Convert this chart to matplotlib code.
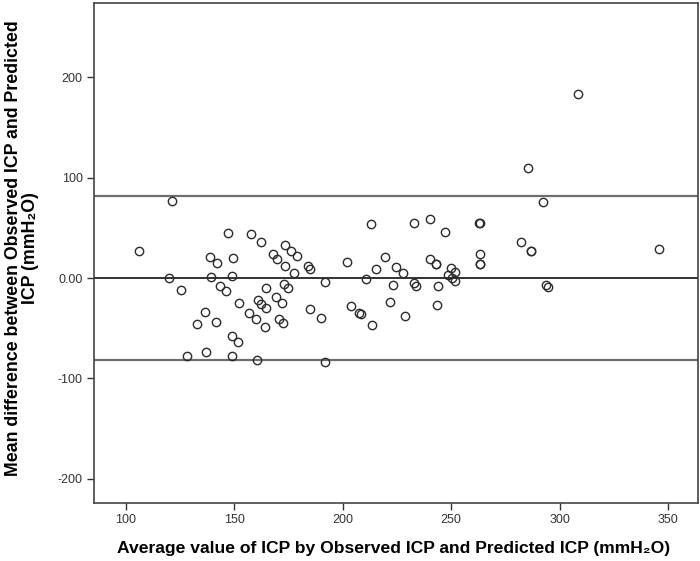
import numpy as np
import matplotlib
matplotlib.use("Agg")
from matplotlib import pyplot as plt

plt.rcParams['font.family'] = ['Liberation Sans', 'DejaVu Sans']

# average of observed and predicted ICP (mmH2O)
avg_icp = [106.1, 121.1, 119.8, 125.4, 132.8, 128.4, 147.0, 157.8, 162.1, 173.5,
           138.9, 142.0, 149.5, 167.8, 169.8, 173.5, 139.2, 148.8, 143.5, 146.1,
           173.0, 174.6, 164.7, 152.3, 160.9, 162.1, 164.6, 169.2, 171.8, 136.6,
           141.5, 157.0, 160.0, 164.3, 170.4, 172.6, 148.9, 151.5, 136.9, 148.8,
           160.6, 213.1, 176.1, 178.7, 177.6, 183.8, 184.9, 201.9, 215.2, 191.9,
           210.6, 185.0, 189.8, 203.9, 207.3, 208.3, 213.6, 191.6, 232.7, 240.2,
           247.0, 219.6, 224.5, 227.6, 240.2, 242.8, 243.1, 250.0, 252.0, 248.4,
           250.4, 251.6, 223.2, 232.7, 233.9, 243.9, 221.9, 243.3, 228.8, 285.4,
           292.3, 263.0, 263.2, 282.2, 286.7, 286.9, 263.3, 263.3, 263.4, 293.9,
           294.5, 308.5, 345.7]
# difference observed - predicted
diff_icp = [27.2, 76.9, 0.0, -11.6, -46.0, -77.6, 45.1, 43.8, 35.5, 33.0,
            21.2, 15.2, 20.2, 23.6, 19.2, 11.9, 0.7, 2.0, -8.0, -12.6,
            -6.0, -10.0, -10.0, -24.9, -22.2, -25.9, -29.6, -18.6, -24.6, -33.5,
            -43.5, -35.2, -40.5, -49.1, -40.8, -45.1, -57.7, -63.7, -73.9, -77.9,
            -81.9, 53.4, 27.2, 21.9, 4.7, 11.9, 9.3, 15.9, 9.3, -4.3,
            -1.3, -30.5, -39.8, -27.6, -34.5, -36.1, -47.1, -83.6, 54.4, 59.0,
            45.8, 20.6, 11.3, 4.7, 19.2, 14.2, 13.9, 10.3, 6.3, 3.0,
            -0.3, -3.0, -6.6, -5.3, -8.0, -8.0, -24.2, -26.5, -37.5, 109.1,
            75.3, 54.4, 54.6, 35.8, 26.9, 27.1, 23.6, 13.6, 13.8, -7.0,
            -8.7, 182.8, 28.9]

mean_diff = 0.0
upper_loa = 81.5
lower_loa = -81.5

fig = plt.figure(figsize=(7, 5.61), dpi=100)
ax = fig.add_axes([0.134, 0.1034, 0.863, 0.8916])

ax.axhline(upper_loa, color='#6e6e6e', lw=1.6, zorder=1)
ax.axhline(mean_diff, color='#222222', lw=1.3, zorder=1)
ax.axhline(lower_loa, color='#6e6e6e', lw=1.6, zorder=1)

ax.plot(avg_icp, diff_icp, 'o', ms=6, mfc='none', mec='#2b2b2b', mew=1.0, zorder=3)

ax.set_xlim(85.2, 363.8)
ax.set_ylim(-224, 274)
ax.set_xticks([100, 150, 200, 250, 300, 350])
ax.set_yticks([-200, -100, 0, 100, 200])
ax.set_yticklabels(['-200', '-100', '0.00', '100', '200'])
ax.tick_params(direction='out', length=5, width=1, color='#333333',
               labelsize=9, labelcolor='#333333', pad=3)

for s in ax.spines.values():
    s.set_color('#444444')
    s.set_linewidth(1.2)

ax.set_xlabel('Average value of ICP by Observed ICP and Predicted ICP (mmH\u2082O)',
              fontsize=12.6, fontweight='bold', labelpad=10)
ax.set_ylabel('Mean difference between Observed ICP and Predicted\nICP (mmH\u2082O)',
              fontsize=12.8, fontweight='bold', linespacing=1.05)
ax.xaxis.set_label_coords(0.496, -0.075)
ax.yaxis.set_label_coords(-0.09, 0.51)

fig.savefig('out.png', dpi=100)
